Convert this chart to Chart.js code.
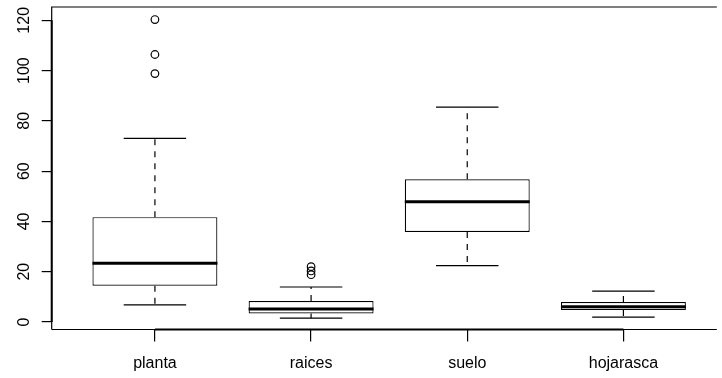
<!DOCTYPE html>
<html>
<head>
<meta charset="utf-8">
<script src="https://cdn.jsdelivr.net/npm/chart.js@4.4.0/dist/chart.umd.min.js"></script>
<style>
  html, body { margin: 0; padding: 0; background: #fff; }
  #wrap { width: 722px; height: 378px; }
</style>
</head>
<body>
<div id="wrap"><canvas id="chart"></canvas></div>
<script>
// boxplot summary per group
const categories = ['planta', 'raices', 'suelo', 'hojarasca'];
const whiskerLow = [6.8, 1.5, 22.4, 1.9];
const q1 = [14.4, 3.4, 35.8, 4.8];
const medians = [23.4, 5.2, 47.8, 6.1];
const q3 = [41.7, 8.3, 56.8, 7.9];
const whiskerHigh = [73.0, 13.9, 85.5, 12.3];
const outliers = [[120.3, 106.4, 98.8], [22.0, 20.3, 18.8], [], []];
const yTicks = [0, 20, 40, 60, 80, 100, 120];

const boxData = categories.map((c, i) => ({ x: i, y: [q1[i], q3[i]] }));
const outlierData = [];
outliers.forEach((list, i) => list.forEach(v => outlierData.push({ x: i, y: v })));

Chart.defaults.font.family = '"Liberation Sans", Arial, sans-serif';
Chart.defaults.font.size = 16;
Chart.defaults.color = '#000';

// whiskers, staples, medians and the R style frame
const boxExtras = {
    id: 'boxExtras',
    afterDatasetsDraw(chart) {
        const { ctx, scales: { x, y }, chartArea } = chart;
        ctx.save();
        ctx.strokeStyle = '#000';
        categories.forEach((c, i) => {
            const cx = x.getPixelForValue(i);
            const capL = x.getPixelForValue(i - 0.2);
            const capR = x.getPixelForValue(i + 0.2);
            const boxL = x.getPixelForValue(i - 0.4);
            const boxR = x.getPixelForValue(i + 0.4);

            ctx.lineWidth = 1.2;
            ctx.setLineDash([6, 6]);
            ctx.beginPath();
            ctx.moveTo(cx, y.getPixelForValue(q3[i]));
            ctx.lineTo(cx, y.getPixelForValue(whiskerHigh[i]));
            ctx.moveTo(cx, y.getPixelForValue(q1[i]));
            ctx.lineTo(cx, y.getPixelForValue(whiskerLow[i]));
            ctx.stroke();

            ctx.setLineDash([]);
            ctx.beginPath();
            ctx.moveTo(capL, y.getPixelForValue(whiskerHigh[i]));
            ctx.lineTo(capR, y.getPixelForValue(whiskerHigh[i]));
            ctx.moveTo(capL, y.getPixelForValue(whiskerLow[i]));
            ctx.lineTo(capR, y.getPixelForValue(whiskerLow[i]));
            ctx.stroke();

            ctx.lineWidth = 3;
            ctx.beginPath();
            ctx.moveTo(boxL, y.getPixelForValue(medians[i]));
            ctx.lineTo(boxR, y.getPixelForValue(medians[i]));
            ctx.stroke();
        });

        // frame (thin) + axis lines between first and last tick (heavier)
        ctx.lineWidth = 1.2;
        ctx.beginPath();
        ctx.moveTo(chartArea.left, chartArea.bottom);
        ctx.lineTo(chartArea.left, chartArea.top);
        ctx.lineTo(chartArea.right, chartArea.top);
        ctx.moveTo(chartArea.left, chartArea.bottom);
        ctx.lineTo(chartArea.right, chartArea.bottom);
        ctx.stroke();
        ctx.lineWidth = 2;
        ctx.beginPath();
        ctx.moveTo(x.getPixelForValue(0), chartArea.bottom);
        ctx.lineTo(x.getPixelForValue(categories.length - 1), chartArea.bottom);
        ctx.moveTo(chartArea.left, y.getPixelForValue(yTicks[0]));
        ctx.lineTo(chartArea.left, y.getPixelForValue(yTicks[yTicks.length - 1]));
        ctx.stroke();
        ctx.restore();
    }
};

new Chart(document.getElementById('chart'), {
    type: 'bar',
    data: {
        datasets: [
            {
                label: 'box',
                data: boxData,
                backgroundColor: '#fff',
                borderColor: '#000',
                borderWidth: 1.2,
                borderSkipped: false,
                barPercentage: 0.8,
                categoryPercentage: 1,
                order: 2
            },
            {
                type: 'scatter',
                label: 'outliers',
                data: outlierData,
                pointStyle: 'circle',
                pointRadius: 3.8,
                pointBorderWidth: 1.2,
                pointBorderColor: '#000',
                pointBackgroundColor: 'rgba(0,0,0,0)',
                order: 1
            }
        ]
    },
    options: {
        responsive: true,
        maintainAspectRatio: false,
        animation: false,
        layout: { padding: { top: 7, right: 0, left: 0, bottom: 0 } },
        plugins: { legend: { display: false }, tooltip: { enabled: false } },
        scales: {
            x: {
                type: 'linear',
                offset: false,
                min: -0.661,
                max: 3.598,
                grid: { display: true, offset: false, drawOnChartArea: false, drawTicks: true, tickLength: 12, color: '#000', lineWidth: 1.2 },
                border: { display: false },
                afterBuildTicks: s => { s.ticks = categories.map((c, i) => ({ value: i })); },
                afterFit: s => { s.height = 48.5; s.paddingLeft = 0; s.paddingRight = 0; },
                ticks: {
                    padding: 12,
                    maxRotation: 0,
                    callback: v => categories[v]
                }
            },
            y: {
                min: -3,
                max: 125.3,
                grid: { display: true, drawOnChartArea: false, drawTicks: true, tickLength: 10, color: '#000', lineWidth: 1.2 },
                border: { display: false },
                afterBuildTicks: s => { s.ticks = yTicks.map(v => ({ value: v })); },
                afterFit: s => { s.width = 51.7; s.paddingTop = 0; s.paddingBottom = 0; },
                ticks: {
                    minRotation: 90,
                    maxRotation: 90,
                    crossAlign: 'center',
                    padding: 4
                }
            }
        }
    },
    plugins: [boxExtras]
});
</script>
</body>
</html>
